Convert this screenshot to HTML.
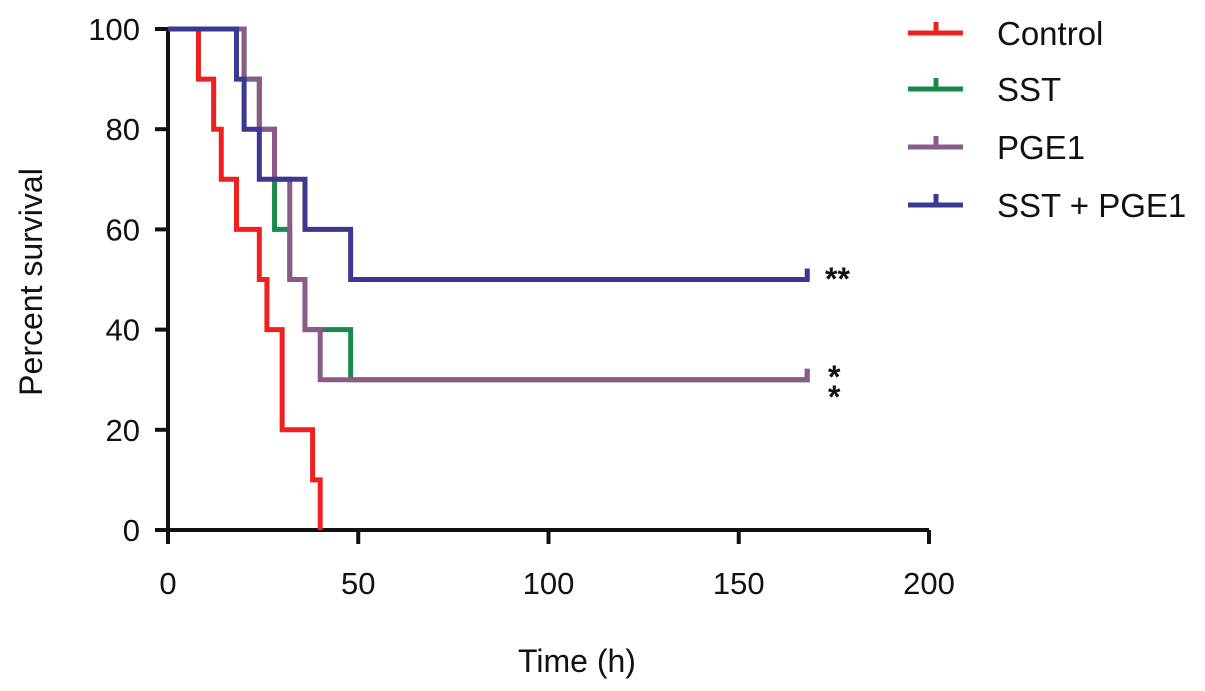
<!DOCTYPE html>
<html><head><meta charset="utf-8"><style>
body{margin:0;background:#fff;}
svg{display:block;font-family:"Liberation Sans",Arial,sans-serif;}
</style></head><body>
<svg id="chart" width="1205" height="691" viewBox="0 0 1205 691">
<g id="axes"></g><g id="series"></g><g id="legend"></g>
</svg>
<script>
const xTicks=[0,50,100,150,200];
const yTicks=[0,20,40,60,80,100];
const seriesNames=["Control","SST","PGE1","SST + PGE1"];
const seriesColors=["#ee2020","#1a8a4a","#8a5a88","#3a3890"];
const controlTimes=[0,8,12,14,18,24,26,30,38,40];
const controlSurv=[100,90,80,70,60,50,40,20,10,0];
const sstTimes=[0,20,24,28,32,36,48,168];
const sstSurv=[100,90,80,60,50,40,30,30];
const pgeTimes=[0,20,24,28,32,36,40,168];
const pgeSurv=[100,90,80,70,50,40,30,30];
const comboTimes=[0,18,20,24,36,48,168];
const comboSurv=[100,90,80,70,60,50,50];
const sigMarks=["**","*","*"];

const NS="http://www.w3.org/2000/svg";
const X=v=>168+v*(929-168)/200;
const Y=v=>530-v*(530-29)/100;
function mk(tag,attrs,parent){const e=document.createElementNS(NS,tag);for(const k in attrs)e.setAttribute(k,attrs[k]);parent.appendChild(e);return e;}
const axes=document.getElementById('axes'),ser=document.getElementById('series'),leg=document.getElementById('legend');
let e;
e=mk('path',{d:`M${X(0)} ${Y(100)} V${Y(0)} H${X(200)}`,fill:'none',stroke:'#111','stroke-width':4},axes);


xTicks.forEach(t=>{
 e=mk('line',{x1:X(t),x2:X(t),y1:Y(0),y2:Y(0)+14,stroke:'#111','stroke-width':4},axes);
 
 
 e=mk('text',{x:X(t),y:594,'text-anchor':'middle','font-size':31,fill:'#111'},axes);e.textContent=t;
 
 
});
yTicks.forEach(t=>{
 e=mk('line',{x1:X(0)-13,x2:X(0),y1:Y(t),y2:Y(t),stroke:'#111','stroke-width':4},axes);
 
 
 e=mk('text',{x:140,y:Y(t)+11,'text-anchor':'end','font-size':31,fill:'#111'},axes);e.textContent=t;
 
 
});
e=mk('text',{x:577,y:672,'text-anchor':'middle','font-size':32,fill:'#111'},axes);e.textContent='Time (h)';


e=mk('text',{x:0,y:0,'text-anchor':'middle','font-size':32,fill:'#111',transform:'translate(42,282) rotate(-90)'},axes);e.textContent='Percent survival';



const data=[[controlTimes,controlSurv],[sstTimes,sstSurv],[pgeTimes,pgeSurv],[comboTimes,comboSurv]];
data.forEach(([ts,ss],i)=>{
 let d=`M${X(ts[0])} ${Y(ss[0])}`;
 for(let k=1;k<ts.length;k++){d+=` H${X(ts[k])} V${Y(ss[k])}`;}
 const last=ts.length-1;
 if(ss[last]>0) d+=` V${Y(ss[last])-11}`;
 e=mk('path',{d,fill:'none',stroke:seriesColors[i],'stroke-width':5,'stroke-linejoin':'miter'},ser);
 
 
});
e=mk('text',{x:825,y:290,'font-size':32,'font-weight':'bold',fill:'#111'},ser);e.textContent=sigMarks[0];


e=mk('text',{x:828,y:388,'font-size':32,'font-weight':'bold',fill:'#111'},ser);e.textContent=sigMarks[1];


e=mk('text',{x:828,y:408,'font-size':32,'font-weight':'bold',fill:'#111'},ser);e.textContent=sigMarks[2];



const legY=[33,89,147,205];
seriesNames.forEach((n,i)=>{
 const g=mk('g',{},leg);
 
 
 mk('path',{d:`M908 ${legY[i]} H963 M936 ${legY[i]} V${legY[i]-11}`,stroke:seriesColors[i],'stroke-width':5,fill:'none'},g);
 e=mk('text',{x:997,y:legY[i]+12,'font-size':33,fill:'#111'},g);e.textContent=n;
});
</script>
</body></html>
